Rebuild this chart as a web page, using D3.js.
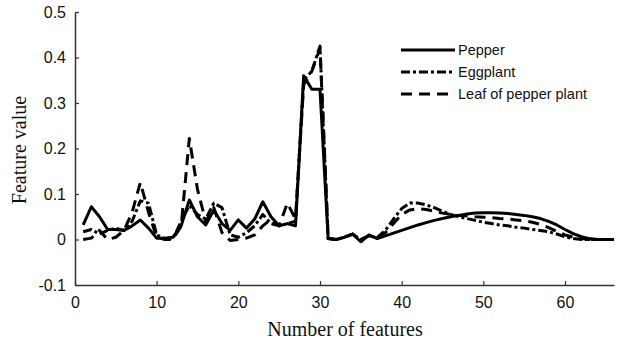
<!DOCTYPE html>
<html>
<head>
<meta charset="utf-8">
<script src="https://cdnjs.cloudflare.com/ajax/libs/d3/7.8.5/d3.min.js"></script>
<style>
  body { margin: 0; background: #fff; }
</style>
</head>
<body>
<script>
// feature index 1..66
const features = d3.range(1, 67);

const pepper = [
  0.032, 0.072, 0.05, 0.022, 0.022, 0.02, 0.03, 0.043, 0.025, 0.003,
  0.003, 0.005, 0.03, 0.087, 0.05, 0.032, 0.065, 0.035, 0.02, 0.043,
  0.025, 0.045, 0.083, 0.05, 0.03, 0.035, 0.03, 0.36, 0.33, 0.33,
  0.002, 0.0, 0.005, 0.012, -0.005, 0.01, 0.002, 0.008, 0.014, 0.02,
  0.026, 0.032, 0.037, 0.042, 0.046, 0.05, 0.053, 0.056, 0.058, 0.059,
  0.059, 0.058, 0.057, 0.055, 0.053, 0.05, 0.046, 0.04, 0.032, 0.022,
  0.013, 0.006, 0.002, 0.0, 0.0, 0.0
];
const eggplant = [
  0.017, 0.022, 0.012, 0.02, 0.025, 0.02, 0.04, 0.085, 0.08, 0.01,
  0.002, 0.002, 0.04, 0.075, 0.055, 0.045, 0.08, 0.07, 0.01, 0.005,
  0.015, 0.03, 0.055, 0.035, 0.03, 0.035, 0.04, 0.35, 0.37, 0.425,
  0.002, 0.0, 0.005, 0.012, 0.0, 0.008, 0.004, 0.02, 0.045, 0.068,
  0.08, 0.08, 0.076, 0.07, 0.062, 0.055, 0.05, 0.046, 0.042, 0.038,
  0.035, 0.032, 0.03, 0.027, 0.025, 0.022, 0.02, 0.017, 0.012, 0.006,
  0.002, 0.0, 0.0, 0.0, 0.0, 0.0
];
const leaf = [
  0.0, 0.003, 0.02, 0.0, 0.005, 0.02, 0.06, 0.125, 0.06, 0.005,
  0.0, 0.0, 0.03, 0.222, 0.11, 0.04, 0.07, 0.015, -0.002, 0.0,
  0.003, 0.01, 0.03, 0.045, 0.03, 0.08, 0.045, 0.34, 0.37, 0.42,
  0.002, 0.0, 0.005, 0.012, 0.0, 0.008, 0.004, 0.015, 0.035, 0.055,
  0.065, 0.068, 0.066, 0.062, 0.058, 0.055, 0.053, 0.052, 0.05, 0.049,
  0.048, 0.046, 0.045, 0.043, 0.041, 0.038, 0.033, 0.026, 0.018, 0.01,
  0.005, 0.002, 0.0, 0.0, 0.0, 0.0
];

const xTicks = [0, 10, 20, 30, 40, 50, 60];
const yTicks = [-0.1, 0, 0.1, 0.2, 0.3, 0.4, 0.5];
const yTickLabels = ["-0.1", "0", "0.1", "0.2", "0.3", "0.4", "0.5"];

const seriesNames = ["Pepper", "Eggplant", "Leaf of pepper plant"];
const seriesData = [pepper, eggplant, leaf];
const dashes = [null, "9,3,3,3", "11,7"];

const width = 617, height = 345;
const svg = d3.select("body").append("svg")
  .attr("width", width)
  .attr("height", height);

const x = d3.scaleLinear().domain([0, 66]).range([75, 614]);
const y = d3.scaleLinear().domain([-0.1, 0.5]).range([285, 12]);

// axes, ticks pointing inwards, no box
const xAxis = svg.append("g")
  .attr("transform", "translate(0," + y(-0.1) + ")")
  .call(d3.axisBottom(x).tickValues(xTicks).tickSizeInner(-4).tickSizeOuter(0).tickPadding(12).tickFormat(d3.format("d")));
const yAxis = svg.append("g")
  .attr("transform", "translate(" + x(0) + ",0)")
  .call(d3.axisLeft(y).tickValues(yTicks).tickSizeInner(-4).tickSizeOuter(0).tickPadding(9)
    .tickFormat(function(d, i){ return yTickLabels[i]; }));

[xAxis, yAxis].forEach(function(g){
  g.select(".domain").attr("stroke", "#333").attr("stroke-width", 1.5);
  g.selectAll(".tick line").attr("stroke", "#333").attr("stroke-width", 1.2);
  g.selectAll(".tick text")
    .attr("fill", "#111")
    .style("font-family", "'Liberation Sans', Arial, sans-serif")
    .style("font-size", "16px");
});

// lines
const line = d3.line()
  .x(function(d, i){ return x(features[i]); })
  .y(function(d){ return y(d); });

seriesData.forEach(function(s, i){
  svg.append("path")
    .attr("d", line(s))
    .attr("fill", "none")
    .attr("stroke", "#000")
    .attr("stroke-width", 3)
    .attr("stroke-linejoin", "round")
    .attr("stroke-dasharray", dashes[i]);
});

// legend
const legend = svg.append("g");
const legendY = [50, 72, 94];
seriesNames.forEach(function(name, i){
  legend.append("line")
    .attr("x1", 401).attr("x2", 455)
    .attr("y1", legendY[i]).attr("y2", legendY[i])
    .attr("stroke", "#000")
    .attr("stroke-width", 3)
    .attr("stroke-dasharray", dashes[i]);
  legend.append("text")
    .attr("x", 458)
    .attr("y", legendY[i] + 5)
    .style("font-family", "'Liberation Sans', Arial, sans-serif")
    .style("font-size", "14.5px")
    .attr("fill", "#111")
    .text(name);
});

// axis titles
svg.append("text")
  .attr("x", 345)
  .attr("y", 336)
  .attr("text-anchor", "middle")
  .style("font-family", "'Liberation Serif', 'Times New Roman', serif")
  .style("font-size", "20px")
  .attr("fill", "#111")
  .text("Number of features");

svg.append("text")
  .attr("transform", "translate(26,150) rotate(-90)")
  .attr("text-anchor", "middle")
  .style("font-family", "'Liberation Serif', 'Times New Roman', serif")
  .style("font-size", "20px")
  .attr("fill", "#111")
  .text("Feature value");
</script>
</body>
</html>
